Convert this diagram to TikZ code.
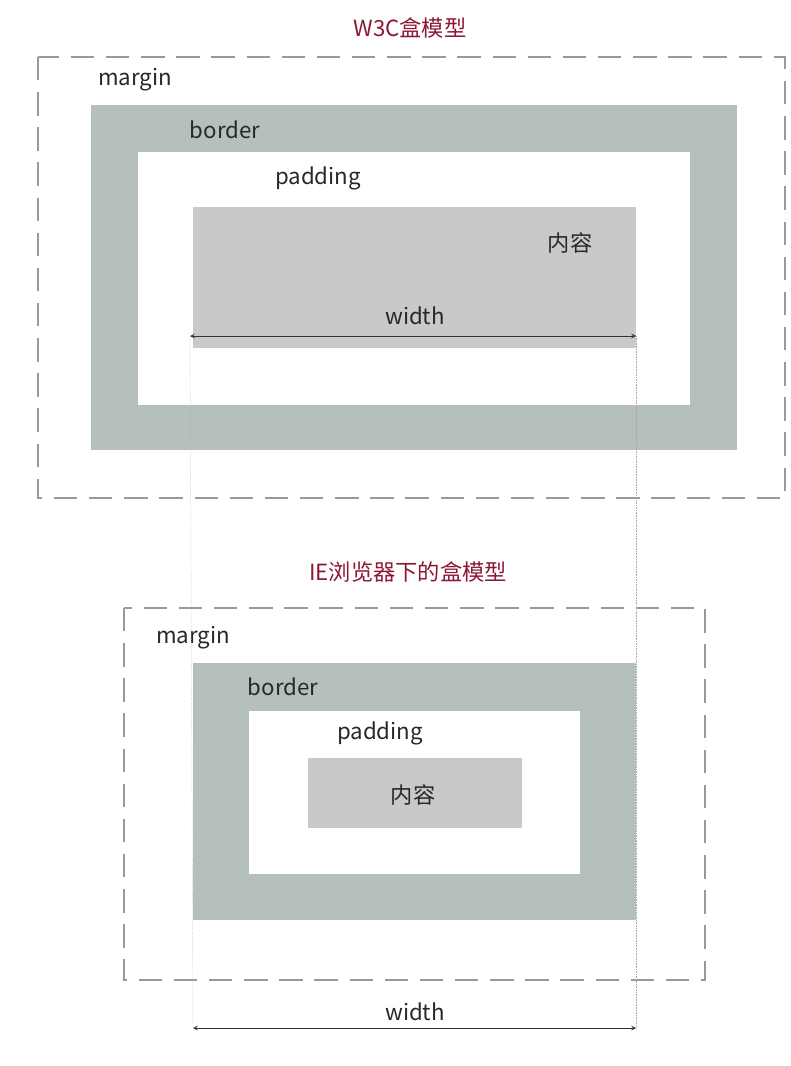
\documentclass[tikz,border=0pt]{standalone}
\usepackage{fontspec}
\setmainfont{Noto Sans CJK SC}
\usetikzlibrary{positioning}
\definecolor{titlered}{RGB}{140,24,52}
\definecolor{bordergreen}{RGB}{180,192,185}
\definecolor{contentgray}{RGB}{201,201,203}
\definecolor{textdark}{RGB}{40,40,40}
\tikzset{
  lbl/.style={font=\fontsize{19}{22}\selectfont, text=textdark},
  ttl/.style={font=\fontsize{19}{22}\selectfont, text=titlered},
  marginbox/.style={draw=gray!80, very thick, dash pattern=on 20pt off 10pt},
  widtharrow/.style={<->, >=stealth, thick, black!80},
  guide/.style={gray!70, densely dotted, thin}
}
\begin{document}
\begin{tikzpicture}[x=0.03cm, y=-0.03cm]
\useasboundingbox (0,0) rectangle (791,1066);

% W3C model
\node[ttl] (w3c) at (410,28) {W3C盒模型};
\draw[marginbox] (38,57) rectangle (785,498);
\fill[bordergreen] (91,105) rectangle (737,450);
\fill[white] (138,152) rectangle (690,405);
\fill[contentgray] (193,207) rectangle (636,348);
\node[lbl] (wmargin) at (135,80) {margin};
\node[lbl] (wborder) at (225,130) {border};
\node[lbl] (wpadding) at (318,178) {padding};
\node[lbl] (wcontent) at (570,243) {内容};
\node[lbl] (wwidth) at (415,316) {width};
\coordinate (wl) at (190,336);
\coordinate (wr) at (636,336);
\draw[widtharrow] (wl) -- (wr);

% IE model
\node[ttl] (ie) at (408,572) {IE浏览器下的盒模型};
\draw[marginbox] (124,608) rectangle (705,980);
\fill[bordergreen] (193,663) rectangle (636,920);
\fill[white] (249,711) rectangle (580,874);
\fill[contentgray] (308,758) rectangle (522,828);
\node[lbl] (imargin) at (193,638) {margin};
\node[lbl] (iborder) at (283,687) {border};
\node[lbl] (ipadding) at (380,733) {padding};
\node[lbl] (icontent) at (413,795) {内容};
\node[lbl] (iwidth) at (415,1012) {width};
\coordinate (il) at (193,1028);
\coordinate (ir) at (636,1028);
\draw[widtharrow] (il) -- (ir);

% guides
\draw[guide] (wl) -- (il);
\draw[guide] (wr) -- (ir);
\end{tikzpicture}
\end{document}
